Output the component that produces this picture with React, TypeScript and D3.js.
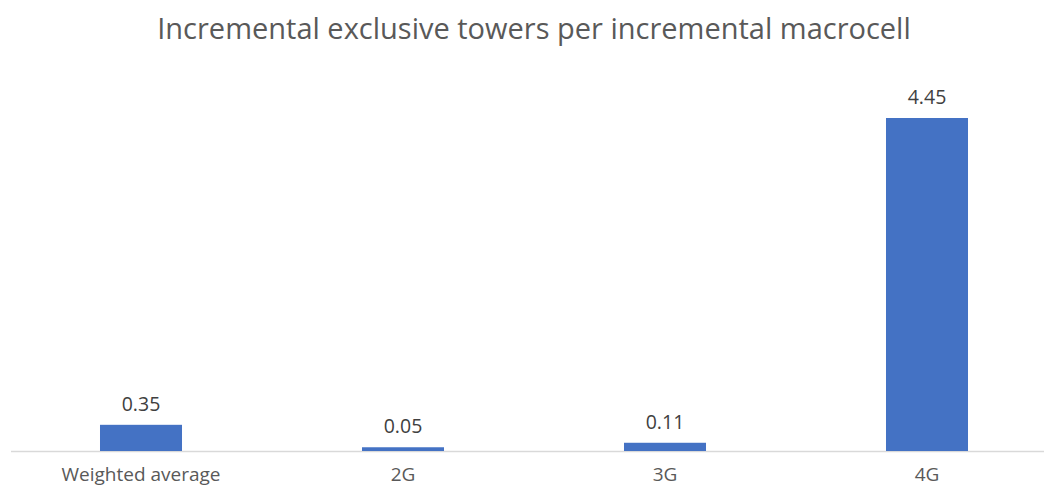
import React from "react";
import * as d3 from "d3";

const categories = ["Weighted average", "2G", "3G", "4G"];
const values = [0.35, 0.05, 0.11, 4.45];
const title = "Incremental exclusive towers per incremental macrocell";

export default function App() {
  const W = 1044, H = 488;
  const baseline = 451;
  const x = d3.scaleBand<string>().domain(categories).range([10, 1058]).paddingInner(0.687).paddingOuter(0.3435);
  const y = d3.scaleLinear().domain([0, 4.45]).range([baseline, 118]);
  const font = "'Open Sans', 'Noto Sans', sans-serif";
  return (
    <svg width={W} height={H} style={{ position: "absolute", left: 0, top: 0, background: "#fff" }}>
      <text x={534} y={39} textAnchor="middle" fontFamily={font} fontSize={29} fill="#595959">{title}</text>
      <line x1={11} x2={W} y1={baseline + 0.5} y2={baseline + 0.5} stroke="#d9d9d9" strokeWidth={1.5} />
      {categories.map((c, i) => (
        <g key={c}>
          <rect x={x(c)} y={y(values[i])} width={x.bandwidth()} height={baseline - y(values[i])} fill="#4472c4" />
          <text x={(x(c) as number) + x.bandwidth() / 2} y={y(values[i]) - 14} textAnchor="middle" fontFamily={font} fontSize={19.5} fill="#404040">{values[i].toFixed(2)}</text>
          <text x={(x(c) as number) + x.bandwidth() / 2} y={481} textAnchor="middle" fontFamily={font} fontSize={19} fill="#595959">{c}</text>
        </g>
      ))}
    </svg>
  );
}
